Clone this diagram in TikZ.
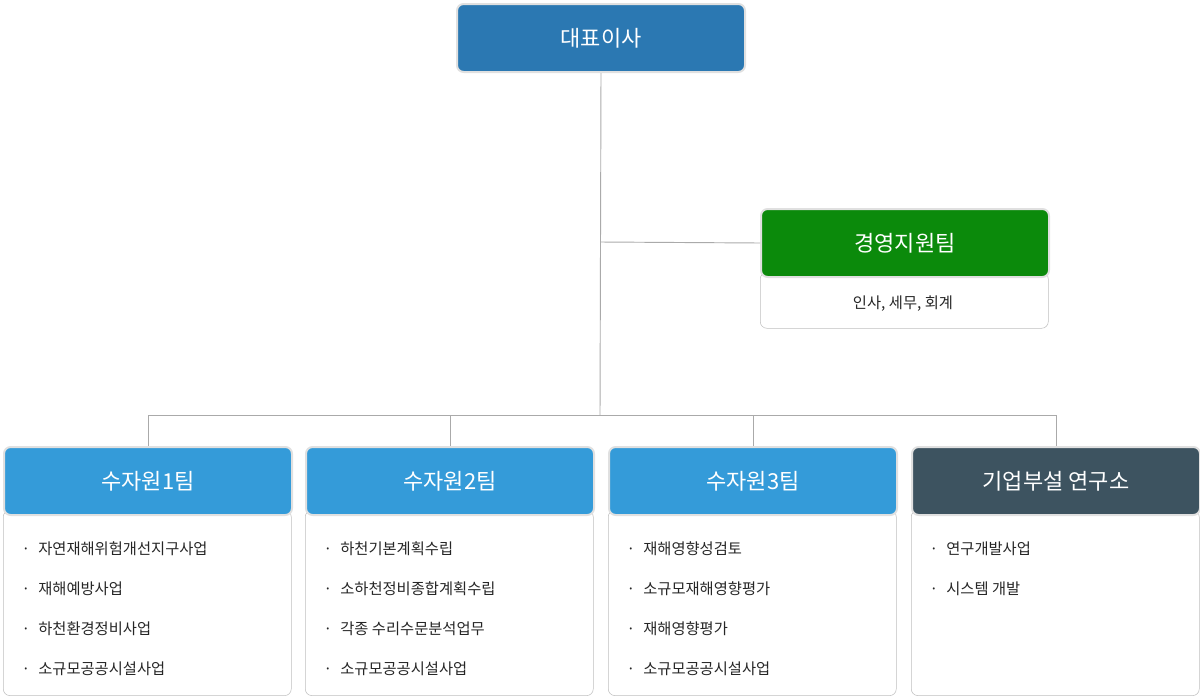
\documentclass[tikz,border=0pt]{standalone}
\usepackage{fontspec}
\setmainfont{Noto Sans CJK KR}
\usetikzlibrary{positioning}
\definecolor{topblue}{HTML}{2B78B2}
\definecolor{green1}{HTML}{0B8A0B}
\definecolor{lblue}{HTML}{349BD9}
\definecolor{slate}{HTML}{3D5360}
\definecolor{ln}{HTML}{AAAAAA}
\tikzset{
 hdr/.style={draw=black!12,line width=1.5pt,rounded corners=5pt,minimum width=216pt,minimum height=51pt,text=white,font=\fontsize{16.5}{18}\selectfont,anchor=north west,inner sep=0pt},
 body/.style={draw=black!25,rounded corners=5pt,minimum width=216pt,anchor=north west,inner sep=0pt},
 item/.style={anchor=west,font=\fontsize{11.5}{13}\selectfont,text=black!85},
 conn/.style={draw=ln,line width=0.7pt}
}
\begin{document}
\begin{tikzpicture}[x=0.75pt,y=-0.75pt]
\useasboundingbox (0,0) rectangle (1200,700);
\node[hdr,fill=topblue] (ceo) at (456,3) {대표이사};
\node[body,minimum height=42pt] (mgb) at (760,272) {};
\node[hdr,fill=green1] (mg) at (760,208) {경영지원팀};
\node[item,anchor=center] at (903,304) {인사, 세무, 회계};
\coordinate (j1) at (600,242);
\coordinate (j2) at (600,415);
\draw[conn] (ceo.south) -- (j2);
\draw[conn] (j1) -- (mg.west);
\foreach \i/\x/\c/\t in {1/3/lblue/수자원1팀,2/305/lblue/수자원2팀,3/608/lblue/수자원3팀,4/911/slate/기업부설 연구소}{
  \node[body,minimum height=139pt] (b\i) at (\x,510) {};
  \node[hdr,fill=\c] (h\i) at (\x,446) {\t};
  \draw[conn] (h\i.north) -- (h\i.north |- j2);
}
\draw[conn] (h1.north |- j2) -- (h4.north |- j2);
\foreach \i/\x in {1/3,2/305,3/608,4/911}{}
\newcommand\items[2]{\foreach \s [count=\k] in {#2}{\node[item] at (#1+14,509+40*\k) {·\hspace{6pt}\s};}}
\items{3}{자연재해위험개선지구사업,재해예방사업,하천환경정비사업,소규모공공시설사업}
\items{305}{하천기본계획수립,소하천정비종합계획수립,각종 수리수문분석업무,소규모공공시설사업}
\items{608}{재해영향성검토,소규모재해영향평가,재해영향평가,소규모공공시설사업}
\items{911}{연구개발사업,시스템 개발}
\end{tikzpicture}
\end{document}
